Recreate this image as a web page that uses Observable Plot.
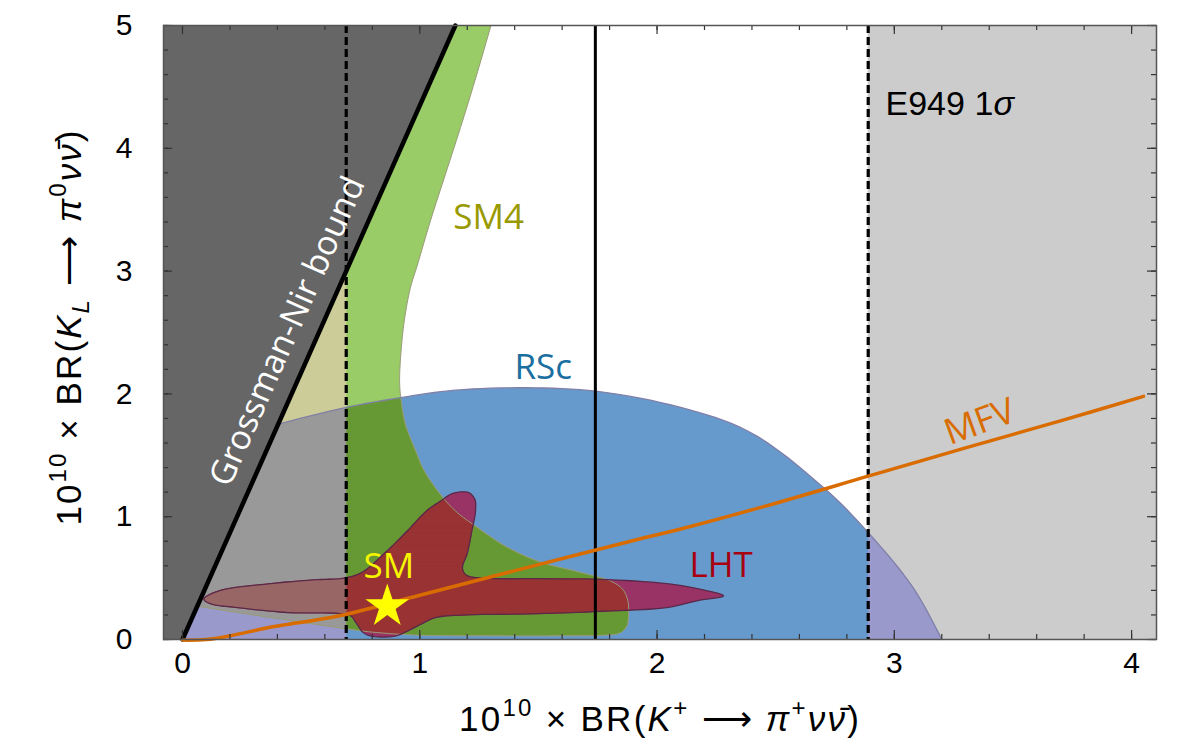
<!DOCTYPE html>
<html><head><meta charset="utf-8">
<script src="https://cdn.jsdelivr.net/npm/d3@7"></script>
<script src="https://cdn.jsdelivr.net/npm/@observablehq/plot@0.6"></script>
<style>body{margin:0;background:#fff}#chart svg{display:block}</style>
</head><body><div id="chart"></div>
<script>
// ---------- data ----------
const xTickValues = [0, 1, 2, 3, 4];
const yTickValues = [0, 1, 2, 3, 4, 5];

// Grossman-Nir bound line
const gnX = [0, 1.15];
const gnY = [0, 5];

// E949 1 sigma band: central value and edges
const e949Central = 1.74, e949Low = 0.69, e949High = 2.89;

// RSc region: outer arc (from the bottom right, anticlockwise)
const rscArcX = [3.20, 3.08, 2.89, 2.70, 2.38, 2.10, 1.75, 1.45, 1.15, 0.92, 0.69, 0.38, 0.00];
const rscArcY = [0.00, 0.42, 0.87, 1.24, 1.70, 1.89, 2.02, 2.05, 2.03, 1.97, 1.89, 1.74, 1.52];

// SM4 region: right boundary (top -> down) and rounded end + lower boundary
const sm4RightX = [1.30, 1.24, 1.18, 1.11, 1.045, 0.99, 0.96, 0.935, 0.92, 0.915, 0.92, 0.94, 0.98, 1.02, 1.10, 1.16, 1.23, 1.37, 1.51, 1.65, 1.76];
const sm4RightY = [5.00, 4.60, 4.22, 3.80, 3.41, 3.05, 2.86, 2.60, 2.32, 2.10, 1.97, 1.75, 1.55, 1.37, 1.15, 1.03, 0.93, 0.75, 0.63, 0.56, 0.505];
const sm4BottomX = [1.80, 1.85, 1.875, 1.88, 1.87, 1.84, 1.78, 1.60, 1.30, 1.00, 0.80, 0.68, 0.30, 0.00, -0.08];
const sm4BottomY = [0.48, 0.42, 0.33, 0.20, 0.10, 0.05, 0.035, 0.03, 0.03, 0.035, 0.06, 0.09, 0.20, 0.29, 0.315];

// LHT region outline
const lhtX = [0.09, 0.16, 0.37, 0.55, 0.68, 0.75, 0.85, 0.95, 1.03, 1.09, 1.14, 1.20, 1.23, 1.235, 1.22, 1.20, 1.18, 1.20, 1.26, 1.50, 1.76, 2.04, 2.18, 2.28, 2.18, 2.04, 1.77, 1.50, 1.20, 1.07, 1.00, 0.95, 0.90, 0.85, 0.79, 0.76, 0.73, 0.70, 0.44, 0.23, 0.12];
const lhtY = [0.33, 0.40, 0.455, 0.485, 0.50, 0.54, 0.70, 0.89, 1.05, 1.13, 1.19, 1.20, 1.15, 1.05, 0.89, 0.70, 0.58, 0.52, 0.50, 0.495, 0.49, 0.455, 0.41, 0.355, 0.32, 0.26, 0.23, 0.21, 0.20, 0.18, 0.12, 0.07, 0.03, 0.02, 0.03, 0.06, 0.14, 0.20, 0.22, 0.26, 0.29];

// MFV curve
const mfvX = [0.00, 0.10, 0.20, 0.37, 0.50, 0.666, 1.00, 1.50, 1.93, 2.10, 2.50, 2.89, 3.30, 3.70, 4.05];
const mfvY = [-0.005, 0.00, 0.03, 0.10, 0.14, 0.195, 0.36, 0.61, 0.82, 0.90, 1.11, 1.33, 1.56, 1.78, 1.98];

// Standard Model point
const smX = [0.863];
const smY = [0.27];

// ---------- geometry helpers ----------
const X0 = -0.0801, X1 = 4.105, Y0 = 0, Y1 = 5;
const zip = (xs, ys) => xs.map((x, i) => [x, ys[i]]);
const signedArea = p => { let a = 0; for (let i = 0; i < p.length; i++) { const q = p[i], r = p[(i + 1) % p.length]; a += q[0] * r[1] - r[0] * q[1]; } return a / 2; };
function clipConvex(subject, clip) {
  let c = clip.slice(); if (signedArea(c) < 0) c.reverse();
  let out = subject.slice();
  for (let i = 0; i < c.length && out.length; i++) {
    const A = c[i], B = c[(i + 1) % c.length];
    const side = p => (B[0] - A[0]) * (p[1] - A[1]) - (B[1] - A[1]) * (p[0] - A[0]);
    const inp = out; out = [];
    for (let j = 0; j < inp.length; j++) {
      const P = inp[j], Q = inp[(j + 1) % inp.length];
      const sp = side(P), sq = side(Q);
      const cross = () => { const t = sp / (sp - sq); return [P[0] + t * (Q[0] - P[0]), P[1] + t * (Q[1] - P[1])]; };
      if (sp >= 0) { out.push(P); if (sq < 0) out.push(cross()); }
      else if (sq >= 0) out.push(cross());
    }
  }
  return out;
}
// rendering step: trace d3's Catmull-Rom curve through the outline points (as curve: "catmull-rom" would)
const STEPS = 8;
function smooth(points, closed) {
  const out = []; let cur;
  const ctx = {
    moveTo(x, y) { cur = [x, y]; out.push(cur); },
    lineTo(x, y) { cur = [x, y]; out.push(cur); },
    bezierCurveTo(x1, y1, x2, y2, x, y) {
      const [x0, y0] = cur;
      for (let k = 1; k <= STEPS; k++) {
        const t = k / STEPS, u = 1 - t;
        out.push([u*u*u*x0 + 3*u*u*t*x1 + 3*u*t*t*x2 + t*t*t*x, u*u*u*y0 + 3*u*u*t*y1 + 3*u*t*t*y2 + t*t*t*y]);
      }
      cur = [x, y];
    },
    closePath() {}
  };
  d3.line().curve(closed ? d3.curveCatmullRomClosed : d3.curveCatmullRom).context(ctx)(points);
  if (closed && out.length > 1) { const a = out[0], b = out[out.length - 1]; if (Math.abs(a[0]-b[0]) < 1e-9 && Math.abs(a[1]-b[1]) < 1e-9) out.pop(); }
  return out;
}

const leftZone = [[-1, -1], [e949Low, -1], [e949Low, 6], [-1, 6]];
const rightZone = [[e949High, -1], [6, -1], [6, 6], [e949High, 6]];

const rscArc = smooth(zip(rscArcX, rscArcY), false);
const rsc = [[X0, 0], ...rscArc, [X0, 1.45]];
const sm4Line = smooth([...zip(sm4RightX, sm4RightY), ...zip(sm4BottomX, sm4BottomY)], false);
const sm4 = [...sm4Line, [X0, Y1]];
const lht = smooth(zip(lhtX, lhtY), true);
const sm4rsc = clipConvex(sm4, rsc);

// convex pieces whose union is SM4 (used to find the part of LHT inside SM4)
const split = (sm4RightX.length - 1) * STEPS;
const lastR = sm4Line[split];
const sm4Pieces = [[...sm4Line.slice(split), [X0, lastR[1]]]];
for (let i = 0; i < split; i++) {
  const a = sm4Line[i], b = sm4Line[i + 1];
  if (Math.abs(a[1] - b[1]) < 1e-9) continue;
  sm4Pieces.push([[X0, a[1]], a, b, [X0, b[1]]]);
}
const lhtIn = sm4Pieces.map(p => clipConvex(lht, p)).filter(p => p.length > 2);

const rows = polys => polys.filter(p => p.length > 2).flatMap((p, k) => p.map(([x, y]) => ({x, y, id: k})));
const poly = (polys, fill, opts = {}) => Plot.line(rows(polys), {x: "x", y: "y", z: "id", fill, stroke: "none", curve: "linear-closed", ...opts});
const outline = (p, stroke, w, closed = true) => Plot.line(rows([p]), {x: "x", y: "y", z: "id", fill: "none", stroke, strokeWidth: w, curve: closed ? "linear-closed" : "linear"});
const left = p => clipConvex(p, leftZone);
const right = p => clipConvex(p, rightZone);

const xMinor = d3.range(0, 21).map(i => +(i * 0.2).toFixed(1));
const yMinor = d3.range(0, 26).map(i => +(i * 0.2).toFixed(1));
const FW = 1185 - 163 - 29, FH = 755 - 25 - 116;
const labelFont = "Open Sans";
const mathFont = "Liberation Sans";

const chart = Plot.plot({
  width: 1185, height: 755,
  marginLeft: 163, marginRight: 29, marginTop: 25, marginBottom: 116,
  x: {domain: [X0, X1], ticks: 5, tickSize: 0, tickPadding: 12, label: null},
  y: {domain: [Y0, Y1], ticks: 5, tickSize: 0, tickPadding: 31, label: null},
  style: {fontFamily: mathFont, fontSize: "30px", background: "white", color: "black"},
  marks: [
    Plot.rect([{a: X0, b: e949Low}, {a: e949High, b: X1}], {x1: "a", x2: "b", y1: Y0, y2: Y1, fill: "#cccccc"}),
    // RSc
    poly([rsc], "#6699cc"),
    poly([left(rsc), right(rsc)], "#9999cc"),
    // SM4
    poly([sm4], "#99cc66"),
    poly([left(sm4)], "#cccc99"),
    poly([sm4rsc], "#669933"),
    poly([left(sm4rsc)], "#999999"),
    // LHT
    poly([lht], "#993366"),
    poly(lhtIn, "#993333", {stroke: "#993333", strokeWidth: 0.8}),
    poly([left(lht)], "#996666", {stroke: "#996666", strokeWidth: 0.5}),
    // outlines
    outline(sm4Line, "#9a9a7a", 1, false),
    outline(rscArc, "#8080a8", 1.3, false),
    outline(lht, "#5a2848", 1.3),
    // Grossman-Nir excluded region
    poly([[[X0, Y0], [gnX[0], gnY[0]], [gnX[1], gnY[1]], [X0, Y1]]], "#666666"),
    Plot.line(zip(gnX, gnY), {x: d => d[0], y: d => d[1], stroke: "black", strokeWidth: 4.5}),
    // E949 lines
    Plot.ruleX([e949Low, e949High], {stroke: "black", strokeWidth: 3.2, strokeDasharray: "8,4"}),
    Plot.ruleX([e949Central], {stroke: "black", strokeWidth: 3}),
    // MFV
    Plot.line(zip(mfvX, mfvY), {x: d => d[0], y: d => d[1], stroke: "#d96c00", strokeWidth: 3.5, strokeLinecap: "round", curve: "catmull-rom"}),
    // SM star
    Plot.dot(zip(smX, smY), {x: d => d[0], y: d => d[1], symbol: "star", r: 13.7, fill: "#ffff00", stroke: "none"}),
    // labels
    Plot.text(["Grossman-Nir bound"], {x: 0.443, y: 2.51, text: d => d, rotate: -66, fill: "white", fontSize: 34, fontFamily: labelFont}),
    Plot.text(["SM4"], {x: 1.29, y: 3.43, text: d => d, fill: "#999900", fontSize: 35, fontFamily: labelFont}),
    Plot.text(["RSc"], {x: 1.52, y: 2.21, text: d => d, fill: "#1a6ea0", fontSize: 35, fontFamily: labelFont}),
    Plot.text(["LHT"], {x: 2.27, y: 0.60, text: d => d, fill: "#a80010", fontSize: 35, fontFamily: labelFont}),
    Plot.text(["SM"], {x: 0.87, y: 0.59, text: d => d, fill: "#f5f500", fontSize: 35, fontFamily: labelFont}),
    Plot.text(["MFV"], {x: 3.36, y: 1.77, text: d => d, rotate: -20, fill: "#d96c00", fontSize: 36, fontFamily: labelFont}),
    Plot.text(["E949 1"], {x: 2.963, y: 4.36, text: d => d, textAnchor: "start", fill: "black", fontSize: 34, fontFamily: mathFont}),
    Plot.text(["σ"], {x: 2.963, y: 4.36, dx: 108, text: d => d, textAnchor: "start", fill: "black", fontSize: 34, fontStyle: "italic", fontFamily: mathFont}),
    // frame and inward ticks
    Plot.tickX(xMinor, {x: d => d, insetTop: FH - 5, stroke: "#333", strokeWidth: 1.2}),
    Plot.tickX(xTickValues, {x: d => d, insetTop: FH - 9, stroke: "#333", strokeWidth: 1.2}),
    Plot.tickX(xMinor, {x: d => d, insetBottom: FH - 5, stroke: "#333", strokeWidth: 1.2}),
    Plot.tickX(xTickValues, {x: d => d, insetBottom: FH - 9, stroke: "#333", strokeWidth: 1.2}),
    Plot.tickY(yMinor, {y: d => d, insetRight: FW - 5, stroke: "#333", strokeWidth: 1.2}),
    Plot.tickY(yTickValues, {y: d => d, insetRight: FW - 9, stroke: "#333", strokeWidth: 1.2}),
    Plot.tickY(yMinor, {y: d => d, insetLeft: FW - 5, stroke: "#333", strokeWidth: 1.2}),
    Plot.tickY(yTickValues, {y: d => d, insetLeft: FW - 9, stroke: "#333", strokeWidth: 1.2}),
    Plot.frame({stroke: "#555", strokeWidth: 1.5})
  ]
});

// axis titles with super/subscripts
function richText(sel, parts, size) {
  let off = 0;
  for (const p of parts) {
    const target = p.s === "sup" ? -0.42 * size : p.s === "sub" ? 0.22 * size : 0;
    const ts = sel.append("tspan").text(p.t).attr("dy", target - off);
    off = target;
    if (p.s) ts.attr("font-size", Math.round(size * 0.68));
    if (p.i) ts.attr("font-style", "italic");
  }
}
const svg = d3.select(chart);
const AX = 35;
const xTitle = svg.append("text").attr("x", 659).attr("y", 731).attr("text-anchor", "middle")
  .attr("font-family", mathFont).attr("font-size", AX).attr("fill", "black")
  .attr("textLength", 400).attr("lengthAdjust", "spacing");
richText(xTitle, [{t: "10"}, {t: "10", s: "sup"}, {t: " × BR("}, {t: "K", i: 1}, {t: "+", s: "sup"}, {t: " ⟶ "}, {t: "π", i: 1}, {t: "+", s: "sup"}, {t: "νν\u0304", i: 1}, {t: ")"}], AX);
const yTitle = svg.append("text").attr("transform", "translate(81,328) rotate(-90)").attr("text-anchor", "middle")
  .attr("font-family", mathFont).attr("font-size", AX).attr("fill", "black")
  .attr("textLength", 395).attr("lengthAdjust", "spacing");
richText(yTitle, [{t: "10"}, {t: "10", s: "sup"}, {t: " × BR("}, {t: "K", i: 1}, {t: "L", s: "sub", i: 1}, {t: " ⟶ "}, {t: "π", i: 1}, {t: "0", s: "sup"}, {t: "νν\u0304", i: 1}, {t: ")"}], AX);

document.getElementById("chart").appendChild(chart);
</script>
</body></html>
